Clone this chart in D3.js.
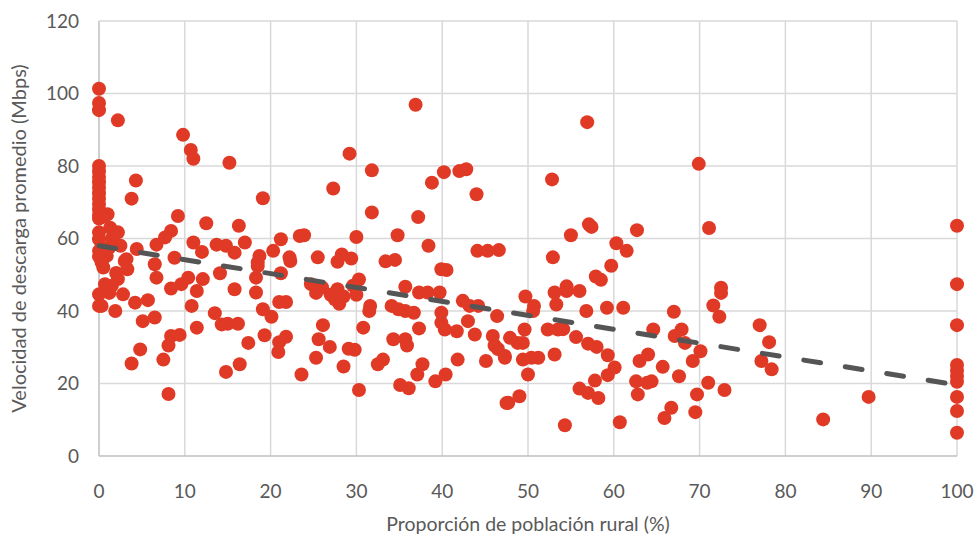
<!DOCTYPE html>
<html>
<head>
<meta charset="utf-8">
<script src="https://cdn.jsdelivr.net/npm/d3@7"></script>
<style>
  body { margin: 0; background: #fff; }
  text { font-family: Lato, "Open Sans", sans-serif; fill: #595959; }
</style>
</head>
<body>
<script>

// rural share (%) per point
var ruralPct = [
  0,0,0,0,0,0,0,0,0,0,0,0,0,0,0,0,0,0,0,0,
  1.0,0.5,1.3,2.2,0.9,0.3,3.0,0.5,2.2,0.7,1.5,2.8,0.3,1.9,2.2,1.5,2.5,1.2,2.0,3.3,1.2,
  4.3,3.8,9.8,10.7,11.0,15.2,19.1,9.2,12.5,16.3,8.4,7.7,6.7,4.4,3.2,6.5,8.8,11.0,12.0,13.7,14.8,15.8,17.0,18.7,18.5,20.3,21.2,22.2,23.4,
  6.7,10.4,9.6,8.4,11.4,12.1,10.8,4.2,5.7,5.1,6.5,8.4,9.4,8.1,4.8,3.8,7.5,8.1,11.4,13.5,14.3,15.0,16.2,14.1,15.8,17.4,16.4,14.8,18.5,18.3,18.3,19.1,20.1,21.0,21.8,19.3,21.0,21.8,20.9,21.2,22.3,23.6,
  36.9,29.2,31.8,27.3,38.8,40.2,42.0,42.8,44.0,31.8,37.2,23.9,30.0,34.8,38.4,44.1,45.3,46.6,25.5,28.3,27.8,29.4,33.4,34.5,39.9,40.5,
  24.7,25.3,26.0,27.0,27.5,28.0,28.5,27.8,30.0,30.3,29.6,31.6,31.5,35.7,37.3,38.3,39.7,34.1,34.9,35.7,36.7,26.1,25.6,26.9,25.3,28.5,29.1,29.8,30.8,32.5,33.1,30.3,34.3,35.7,35.9,37.3,37.7,37.1,35.1,36.1,39.2,40.4,41.8,39.9,39.9,40.3,42.4,43.2,43.0,41.7,43.8,44.2,46.4,45.9,46.1,47.3,45.1,46.5,47.5,
  56.9,69.9,52.8,57.1,57.4,55.0,62.7,71.1,60.3,61.5,52.9,59.7,
  57.9,58.5,54.5,53.1,54.5,56.0,53.3,49.7,50.7,50.6,56.8,59.2,61.1,67.0,71.6,72.3,72.5,72.5,49.6,52.3,53.5,54.1,47.9,48.8,49.4,47.3,49.4,50.4,51.2,50.0,53.1,55.6,57.0,58.0,59.3,60.1,59.3,57.8,56.0,57.0,58.2,54.3,60.7,47.7,49.0,64.6,64.0,63.0,65.7,62.6,63.9,64.4,62.8,66.7,65.9,67.6,67.1,67.9,68.3,69.2,70.1,71.0,69.7,69.5,
  77.0,78.1,77.2,78.4,72.9,84.4,89.7,100,100,100,100,100,100,100,100,100,100
];

// average download speed (Mbps) per point
var speedMbps = [
  101.3,97.4,95.4,80,78.5,77,75.5,74,72.5,71,69.5,68,66.5,65.5,61.7,59.8,56.6,55,44.6,41.4,
  66.7,66,63,61.7,55.2,53.4,53.8,52,48.8,47.4,47,44.6,41.4,40,92.6,60,58,57.5,50.5,51.5,45,
  76,71,88.6,84.4,82,80.9,71.1,66.2,64.2,63.5,62.1,60.3,58.3,57.1,54.3,52.9,54.7,58.9,56.3,58.3,58,56.1,58.9,55.2,53.4,56.6,59.8,54.8,60.7,
  49.2,49.2,47.4,46.2,45.5,48.8,41.4,42.3,43,37.2,38.2,33.1,33.4,30.5,29.4,25.5,26.6,17.1,35.4,39.4,36.3,36.5,36.5,50.4,46,31.2,25.3,23.2,52.4,49.2,45.1,40.5,38.4,42.5,42.5,33.3,31.4,32.9,28.7,50.4,53.8,22.5,
  96.9,83.4,78.8,73.8,75.4,78.3,78.6,79.1,72.2,67.2,65.9,60.9,60.4,60.9,58,56.6,56.6,56.8,54.8,55.6,53.6,54.5,53.7,54.1,51.5,51.3,
  47.4,45,46.5,44.5,43.2,42,44,46,44.5,48.7,47,41.4,40,46.7,45.1,45.1,45.1,41.4,40.5,40,39.5,36.1,32.2,30.1,27.1,24.7,29.6,29.3,35.4,25.3,26.6,18.2,32.2,32.2,30.5,35.2,25.3,22.5,19.6,18.7,20.6,22.5,26.6,39.5,36.8,34.9,42.8,41.4,37.2,34.4,33.5,41.4,38.6,33.1,30.5,27.6,26.2,29.5,14.6,
  92.1,80.6,76.3,63.9,63.2,60.9,62.3,62.9,58.7,56.6,54.8,52.5,
  49.5,48.6,46.8,45.1,45.5,45.5,41.8,44,41.4,40,40,40.9,40.9,39.8,41.5,38.4,46.4,45,34.9,34.9,34.9,35,32.6,31.2,31.2,27.1,26.6,27.1,27.1,22.5,28,32.8,31,30.1,27.8,24.4,22.3,20.8,18.6,17.4,16,8.5,9.3,14.7,16.5,34.9,28,26.2,24.6,20.6,20.2,20.6,17,13.3,10.5,22,33.1,34.9,31.2,26.2,28.9,20.2,17,12.1,
  36.1,31.4,26.2,23.9,18.2,10.1,16.3,63.5,47.4,36.1,25.1,23.5,22.1,20.5,16.3,12.4,6.4
];

// linear trendline
var trendX = [0, 100];
var trendY = [58.0, 19.6];

var xTicks = [0,10,20,30,40,50,60,70,80,90,100];
var yTicks = [0,20,40,60,80,100,120];

var margin = {top: 21, right: 21, bottom: 80, left: 99},
    width = 978 - margin.left - margin.right,
    height = 536 - margin.top - margin.bottom;

var x = d3.scaleLinear().domain([0, 100]).range([0, width]);
var y = d3.scaleLinear().domain([0, 120]).range([height, 0]);

var svg = d3.select("body")
            .append("svg")
            .attr("width", 978)
            .attr("height", 536)
          .append("g")
            .attr("transform", "translate(" + margin.left + "," + margin.top + ")");

// gridlines
svg.append("g")
    .selectAll("line")
    .data(xTicks)
  .enter().append("line")
    .attr("x1", function(d) { return x(d); })
    .attr("x2", function(d) { return x(d); })
    .attr("y1", 0)
    .attr("y2", height)
    .style("stroke", function(d) { return d === 0 ? "#bfbfbf" : "#d9d9d9"; })
    .style("stroke-width", 1.5);

svg.append("g")
    .selectAll("line")
    .data(yTicks)
  .enter().append("line")
    .attr("x1", 0)
    .attr("x2", width)
    .attr("y1", function(d) { return y(d); })
    .attr("y2", function(d) { return y(d); })
    .style("stroke", function(d) { return d === 0 ? "#bfbfbf" : "#d9d9d9"; })
    .style("stroke-width", 1.5);

// tick labels
svg.append("g")
    .selectAll("text")
    .data(yTicks)
  .enter().append("text")
    .attr("x", -20)
    .attr("y", function(d) { return y(d); })
    .attr("dy", "0.35em")
    .attr("text-anchor", "end")
    .style("font-size", "19px")
    .text(function(d) { return d; });

svg.append("g")
    .selectAll("text")
    .data(xTicks)
  .enter().append("text")
    .attr("x", function(d) { return x(d); })
    .attr("y", height + 35)
    .attr("dy", "0.35em")
    .attr("text-anchor", "middle")
    .style("font-size", "19px")
    .text(function(d) { return d; });

// axis titles
svg.append("text")
    .attr("x", width / 2)
    .attr("y", height + 68)
    .attr("dy", "0.35em")
    .attr("text-anchor", "middle")
    .style("font-size", "19.5px")
    .text("Proporción de población rural (%)");

svg.append("text")
    .attr("transform", "translate(" + (-80) + "," + (height / 2) + ") rotate(-90)")
    .attr("dy", "0.35em")
    .attr("text-anchor", "middle")
    .style("font-size", "20px")
    .text("Velocidad de descarga promedio (Mbps)");

// points
svg.append("g")
    .selectAll("circle")
    .data(ruralPct)
  .enter().append("circle")
    .attr("cx", function(d) { return x(d); })
    .attr("cy", function(d, i) { return y(speedMbps[i]); })
    .attr("r", 7)
    .style("fill", "#e03a26");

// trendline
var line = d3.line()
    .x(function(d) { return x(d); })
    .y(function(d, i) { return y(trendY[i]); });

svg.append("path")
    .datum(trendX)
    .attr("d", line)
    .style("fill", "none")
    .style("stroke", "#555555")
    .style("stroke-width", 5)
    .style("stroke-linecap", "round")
    .style("stroke-dasharray", "17,25");

</script>
</body>
</html>
